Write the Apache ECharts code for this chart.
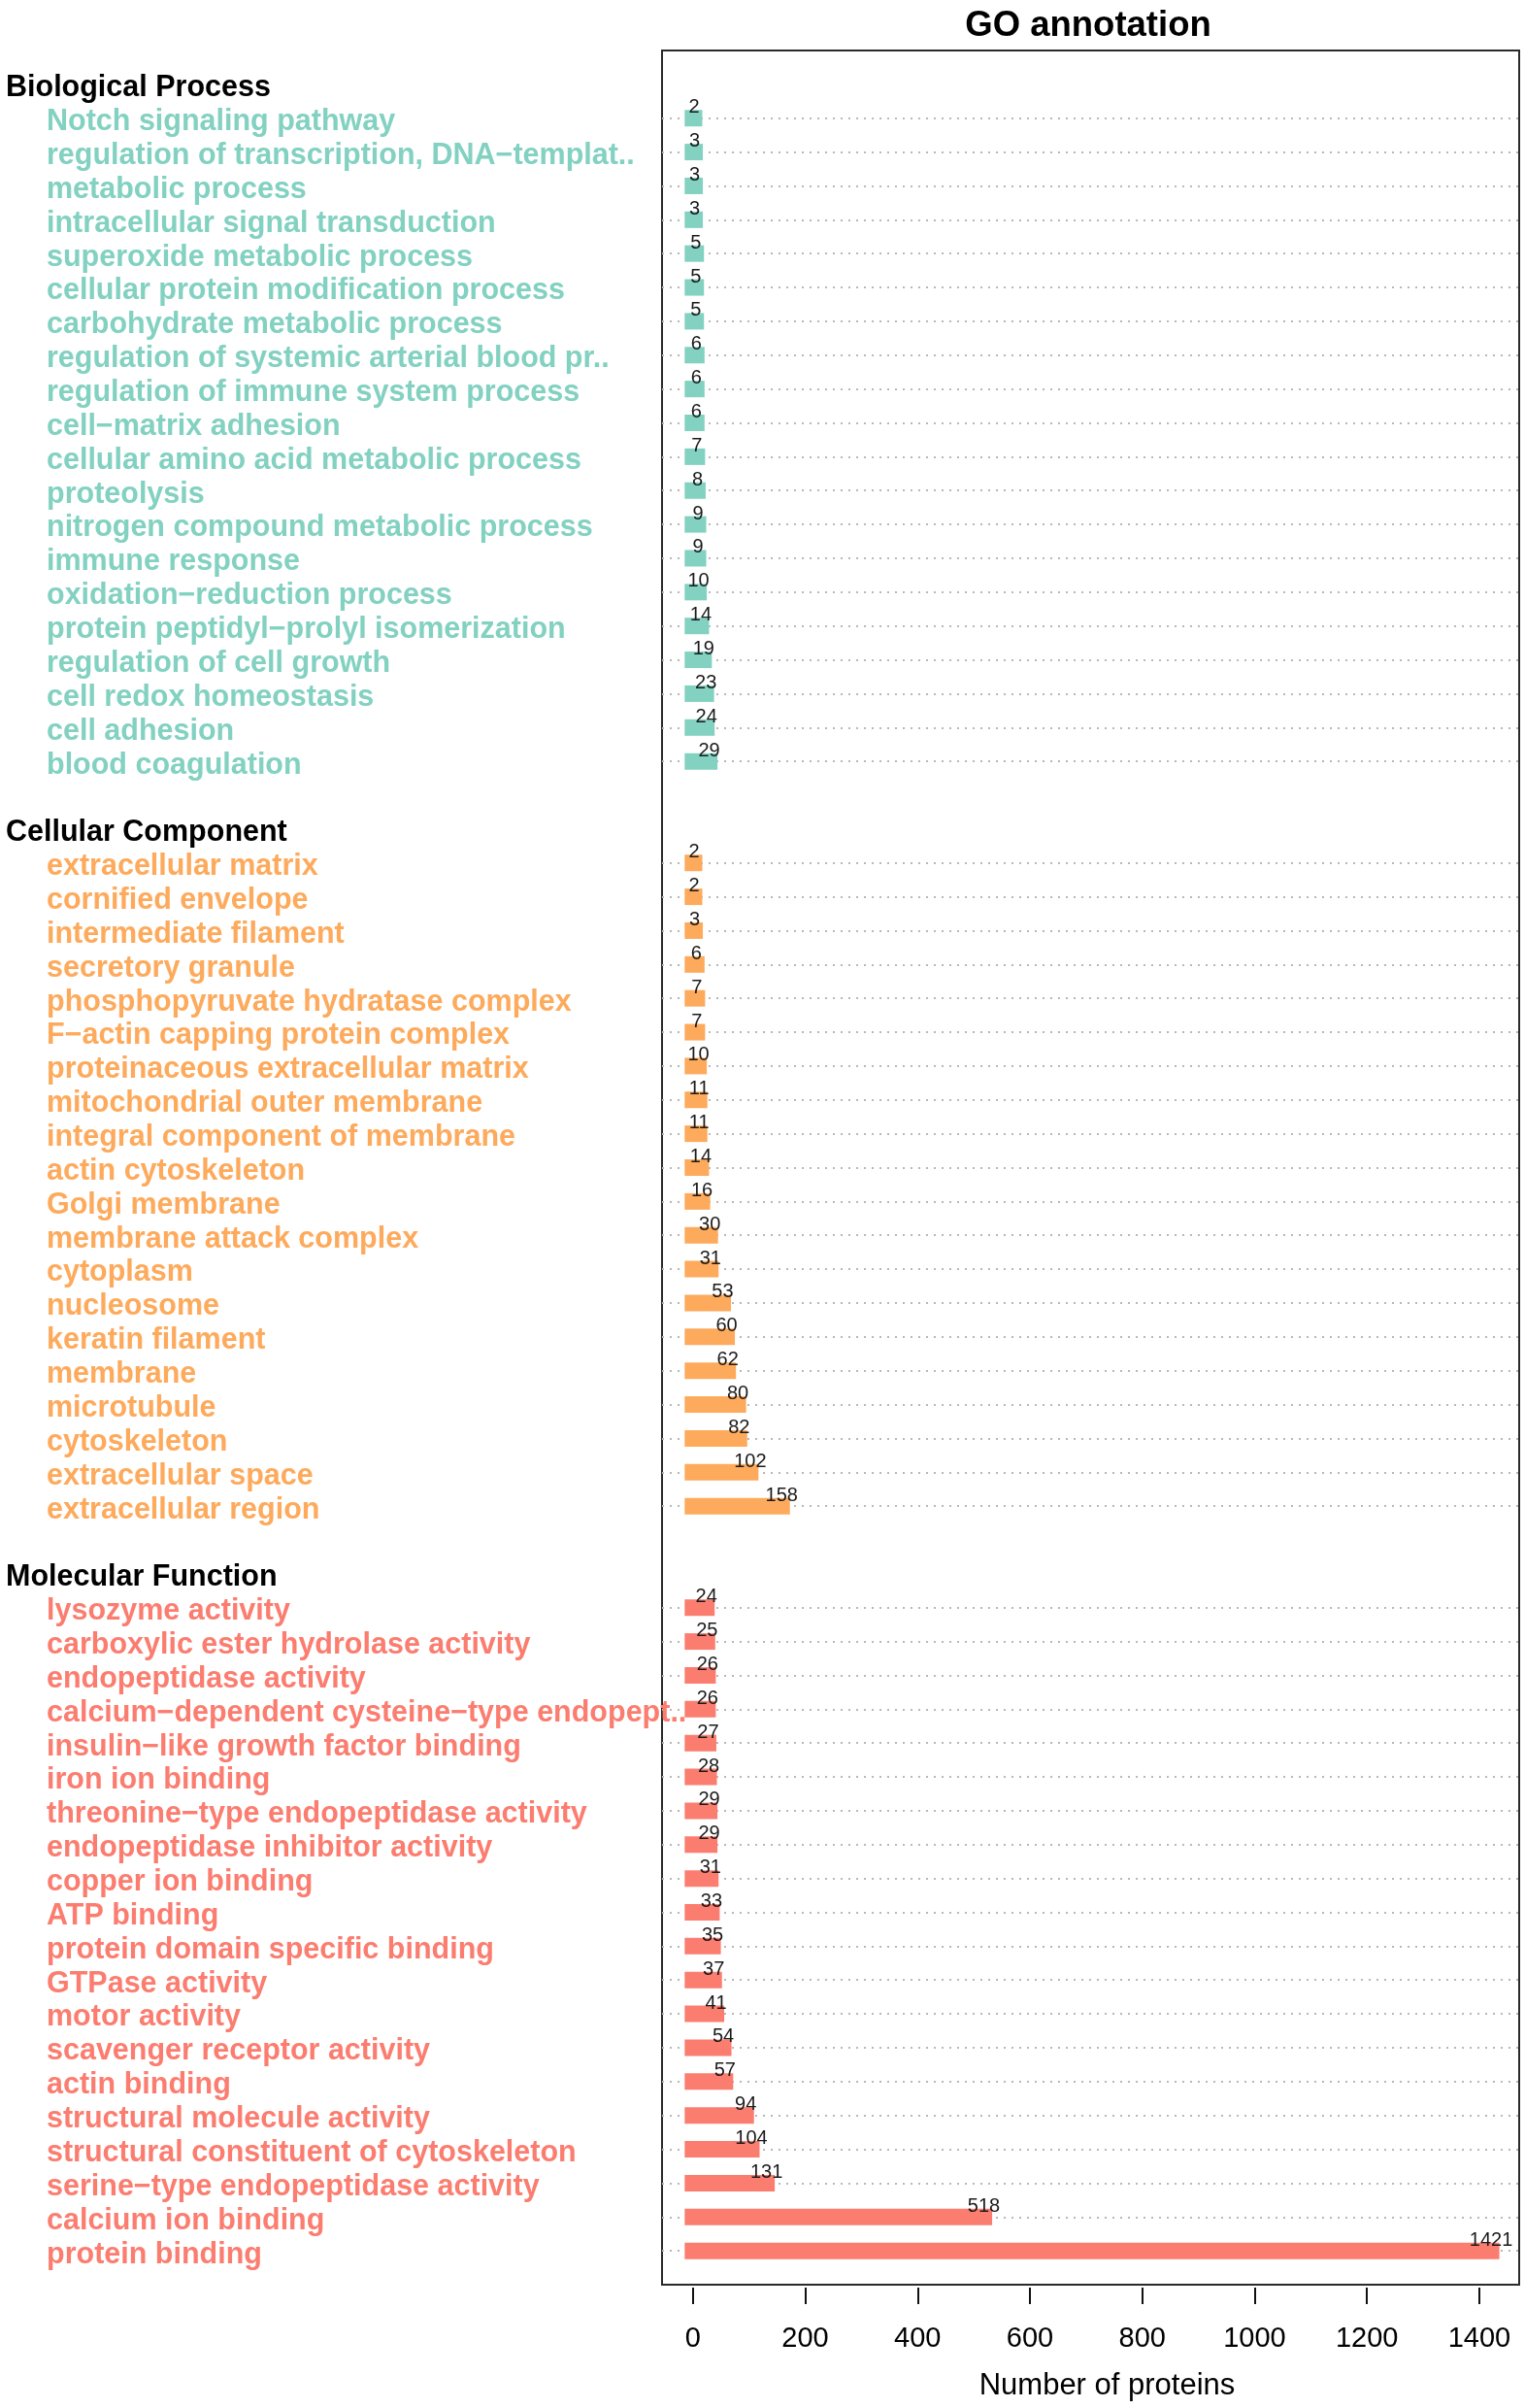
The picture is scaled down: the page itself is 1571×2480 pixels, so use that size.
<!DOCTYPE html>
<html>
<head>
<meta charset="utf-8">
<script src="https://cdn.jsdelivr.net/npm/echarts@6/dist/echarts.min.js"></script>
<style>
html,body{margin:0;padding:0;background:#fff;}
#chart{width:1571px;height:2480px;}
</style>
</head>
<body>
<div id="chart"></div>
<script>
// ---- Data ----
const groupNames = ['Biological Process', 'Cellular Component', 'Molecular Function'];

const bpTerms = ['Notch signaling pathway', 'regulation of transcription, DNA\u2212templat..', 'metabolic process',
  'intracellular signal transduction', 'superoxide metabolic process', 'cellular protein modification process',
  'carbohydrate metabolic process', 'regulation of systemic arterial blood pr..', 'regulation of immune system process',
  'cell\u2212matrix adhesion', 'cellular amino acid metabolic process', 'proteolysis', 'nitrogen compound metabolic process',
  'immune response', 'oxidation\u2212reduction process', 'protein peptidyl\u2212prolyl isomerization', 'regulation of cell growth',
  'cell redox homeostasis', 'cell adhesion', 'blood coagulation'];
const bpValues = [2, 3, 3, 3, 5, 5, 5, 6, 6, 6, 7, 8, 9, 9, 10, 14, 19, 23, 24, 29];

const ccTerms = ['extracellular matrix', 'cornified envelope', 'intermediate filament', 'secretory granule',
  'phosphopyruvate hydratase complex', 'F\u2212actin capping protein complex', 'proteinaceous extracellular matrix',
  'mitochondrial outer membrane', 'integral component of membrane', 'actin cytoskeleton', 'Golgi membrane',
  'membrane attack complex', 'cytoplasm', 'nucleosome', 'keratin filament', 'membrane', 'microtubule', 'cytoskeleton',
  'extracellular space', 'extracellular region'];
const ccValues = [2, 2, 3, 6, 7, 7, 10, 11, 11, 14, 16, 30, 31, 53, 60, 62, 80, 82, 102, 158];

const mfTerms = ['lysozyme activity', 'carboxylic ester hydrolase activity', 'endopeptidase activity',
  'calcium\u2212dependent cysteine\u2212type endopept..', 'insulin\u2212like growth factor binding', 'iron ion binding',
  'threonine\u2212type endopeptidase activity', 'endopeptidase inhibitor activity', 'copper ion binding', 'ATP binding',
  'protein domain specific binding', 'GTPase activity', 'motor activity', 'scavenger receptor activity', 'actin binding',
  'structural molecule activity', 'structural constituent of cytoskeleton', 'serine\u2212type endopeptidase activity',
  'calcium ion binding', 'protein binding'];
const mfValues = [24, 25, 26, 26, 27, 28, 29, 29, 31, 33, 35, 37, 41, 54, 57, 94, 104, 131, 518, 1421];

const xTicks = [0, 200, 400, 600, 800, 1000, 1200, 1400];

// ---- Build category list (gap / header / terms) ----
const groupColors = ['#82d1c1', '#fdaa5c', '#fb7d70'];
const groupKeys = ['bp', 'cc', 'mf'];
const termsByGroup = [bpTerms, ccTerms, mfTerms];
const valuesByGroup = [bpValues, ccValues, mfValues];

const categories = [];
const catKind = {};
for (let g = 0; g < 3; g++) {
  const gap = '_gap' + g;
  categories.push(gap); catKind[gap] = 'gap';
  categories.push(groupNames[g]); catKind[groupNames[g]] = 'hdr';
  termsByGroup[g].forEach(t => { categories.push(t); catKind[t] = groupKeys[g]; });
}
categories.push('_gap3'); catKind['_gap3'] = 'gap';

function makeSeries(g) {
  const color = groupColors[g];
  return {
    type: 'custom',
    name: groupNames[g],
    xAxisIndex: 0,
    yAxisIndex: 0,
    encode: { x: 0, y: 1 },
    data: termsByGroup[g].map((t, i) => [valuesByGroup[g][i], t]),
    renderItem: function (params, api) {
      const v = api.value(0);
      const idx = api.value(1);
      const p0 = api.coord([0, idx]);
      const p1 = api.coord([v, idx]);
      const half = 8.5;
      return {
        type: 'group',
        children: [
          { type: 'rect', shape: { x: p0[0] - half, y: p0[1] - half, width: p1[0] - p0[0] + 2 * half, height: 2 * half },
            style: { fill: color } },
          { type: 'text', style: { text: String(v), x: p1[0], y: p1[1] - 11, align: 'center', verticalAlign: 'middle',
            fontSize: 20, fontFamily: 'Liberation Sans', fill: '#1a1a1a' } }
        ]
      };
    }
  };
}

const chart = echarts.init(document.getElementById('chart'), null, { renderer: 'canvas' });
chart.setOption({
  backgroundColor: '#ffffff',
  animation: false,
  title: {
    text: 'GO annotation',
    left: 1116,
    top: 3,
    textAlign: 'center',
    textStyle: { fontFamily: 'Liberation Sans', fontWeight: 'bold', fontSize: 36.5, color: '#000' }
  },
  grid: {
    left: 682, right: 6, top: 52, bottom: 127,
    show: true, borderColor: '#2a2a2a', borderWidth: 2, backgroundColor: 'transparent'
  },
  xAxis: [{
    type: 'value',
    min: -55, max: 1471,
    offset: 3,
    axisLine: { show: false },
    axisTick: { show: true, customValues: xTicks, length: 17, lineStyle: { color: '#111', width: 2 } },
    axisLabel: { customValues: xTicks, margin: 38, fontFamily: 'Liberation Sans', fontSize: 29, color: '#000',
      formatter: function (v) { return String(v); } },
    splitLine: { show: false },
    name: 'Number of proteins',
    nameLocation: 'middle',
    nameGap: 86,
    nameTextStyle: { fontFamily: 'Liberation Sans', fontSize: 31, color: '#000', padding: [0, 0, 0, 34] }
  }],
  yAxis: [{
    type: 'category',
    data: categories,
    inverse: true,
    boundaryGap: false,
    axisLine: { show: false },
    axisTick: { show: false },
    splitLine: {
      show: true,
      interval: function (index, value) { const k = catKind[value]; return k === 'bp' || k === 'cc' || k === 'mf'; },
      lineStyle: { color: '#b8b8b8', width: 2, type: [2, 6] }
    },
    axisLabel: {
      interval: 0,
      align: 'left',
      margin: 676,
      padding: [8, 0, 0, 0],
      formatter: function (value) {
        const k = catKind[value];
        if (k === 'gap') return '';
        if (k === 'hdr') return '{hdr|' + value + '}';
        return '{' + k + '|' + value + '}';
      },
      rich: {
        hdr: { fontFamily: 'Liberation Sans', fontWeight: 'bold', fontSize: 30.5, color: '#000' },
        bp: { fontFamily: 'Liberation Sans', fontWeight: 'bold', fontSize: 30.5, color: groupColors[0], padding: [0, 0, 0, 42] },
        cc: { fontFamily: 'Liberation Sans', fontWeight: 'bold', fontSize: 30.5, color: groupColors[1], padding: [0, 0, 0, 42] },
        mf: { fontFamily: 'Liberation Sans', fontWeight: 'bold', fontSize: 30.5, color: groupColors[2], padding: [0, 0, 0, 42] }
      }
    }
  }],
  series: [makeSeries(0), makeSeries(1), makeSeries(2)]
});
</script>
</body>
</html>
